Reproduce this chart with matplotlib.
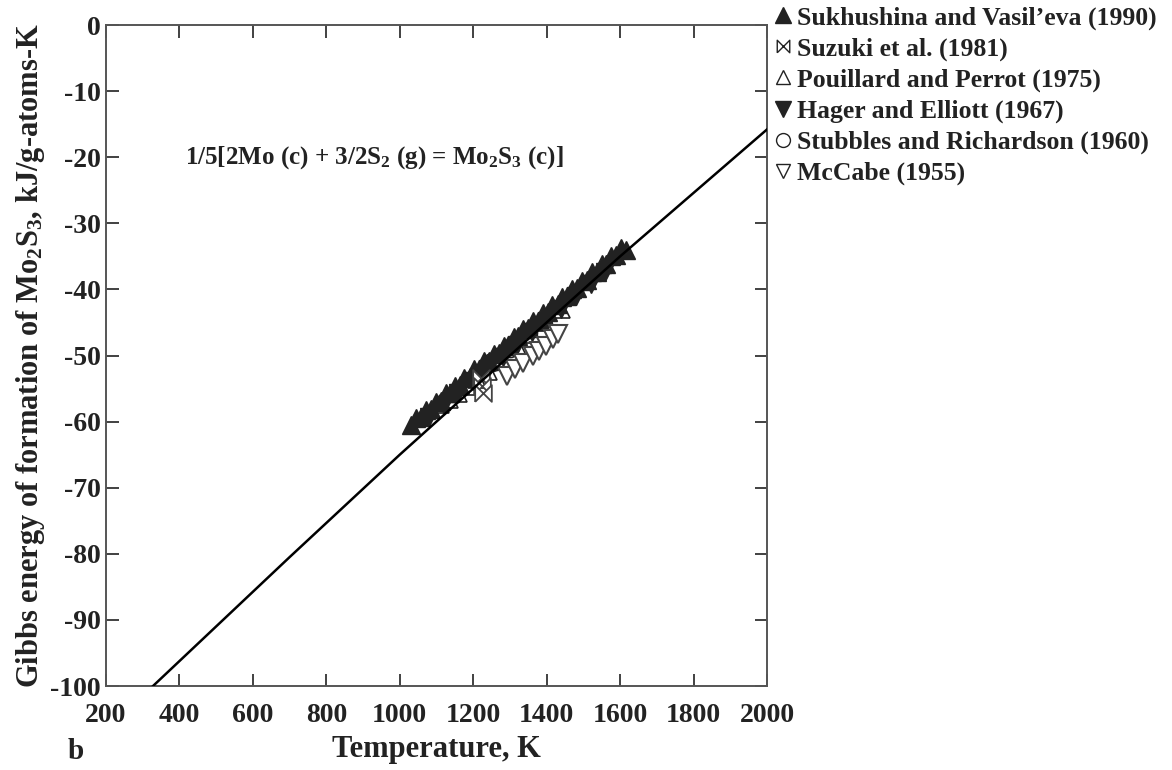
import matplotlib
matplotlib.use("Agg")
import matplotlib.pyplot as plt
from matplotlib.lines import Line2D

plt.rcParams['font.family'] = ['Liberation Serif', 'DejaVu Serif']
plt.rcParams['font.weight'] = 'bold'
plt.rcParams['mathtext.fontset'] = 'custom'
plt.rcParams['mathtext.rm'] = 'Liberation Serif:bold'
plt.rcParams['mathtext.it'] = 'Liberation Serif:bold'
plt.rcParams['mathtext.bf'] = 'Liberation Serif:bold'
plt.rcParams['mathtext.default'] = 'rm'
plt.rcParams['axes.unicode_minus'] = False

# ---- data ----
line_T = [328, 700, 1000, 1300, 1600, 2000]
line_G = [-100.0, -80.5, -65.0, -50.0, -35.0, -15.8]

suk_T = [1030, 1045, 1058, 1072, 1085, 1098, 1112, 1125, 1138, 1150, 1163, 1176,
         1190, 1203, 1216, 1230, 1243, 1256, 1270, 1283, 1296, 1310, 1323, 1336,
         1350, 1363, 1376, 1390, 1403, 1416, 1430, 1443, 1456, 1470, 1483, 1496,
         1510, 1523, 1536, 1550, 1563, 1576, 1590, 1603, 1615]
suk_G = [-60.5, -59.4, -59.3, -58.2, -58.1, -57.0, -56.9, -55.7, -55.6, -54.6, -54.5, -53.4,
         -53.2, -52.1, -52.0, -50.9, -50.8, -49.7, -49.6, -48.5, -48.4, -47.2, -47.1, -46.0,
         -45.9, -44.8, -44.7, -43.5, -43.4, -42.3, -42.2, -41.1, -41.0, -39.9, -39.8, -38.7,
         -38.5, -37.4, -37.3, -36.2, -36.1, -35.0, -34.8, -33.8, -34.0]

suz_T = [1222, 1225, 1228]
suz_G = [-53.4, -54.6, -55.7]

pou_T = [1110, 1135, 1160, 1185, 1210, 1240, 1280, 1320, 1360, 1400, 1440]
pou_G = [-57.4, -56.5, -55.6, -54.6, -53.6, -52.3, -50.5, -48.6, -46.8, -44.9, -43.0]

hag_T = [1080, 1120, 1160, 1200, 1240, 1280, 1320, 1360, 1400, 1440, 1480, 1520, 1560]
hag_G = [-59.3, -57.5, -55.7, -53.9, -52.0, -50.2, -48.4, -46.5, -44.7, -42.9, -41.0, -39.2, -37.3]

stu_T = [1250, 1300, 1350]
stu_G = [-51.0, -48.8, -46.5]

mcc_T = [1293, 1315, 1337, 1362, 1378, 1398, 1417, 1431]
mcc_G = [-53.1, -52.0, -51.1, -50.1, -49.3, -48.6, -47.5, -46.7]

labels = ["Sukhushina and Vasil\u2019eva (1990)", "Suzuki et al. (1981)",
          "Pouillard and Perrot (1975)", "Hager and Elliott (1967)",
          "Stubbles and Richardson (1960)", "McCabe (1955)"]

xticks = [200, 400, 600, 800, 1000, 1200, 1400, 1600, 1800, 2000]
yticks = [0, -10, -20, -30, -40, -50, -60, -70, -80, -90, -100]

bowtie = [(-1, -1), (-1, 1), (1, -1), (1, 1), (-1, -1)]
dark = '#222222'

fig = plt.figure(figsize=(11.72, 7.70), dpi=100)
ax = fig.add_axes([0.0904, 0.109, 0.5640, 0.8585])

ms = 13
ax.plot(stu_T, stu_G, 'o', ms=ms, mfc='white', mec=dark, mew=1.2, ls='none', zorder=2)
ax.plot(pou_T, pou_G, '^', ms=ms, mfc='white', mec=dark, mew=1.2, ls='none', zorder=2)
ax.plot(hag_T, hag_G, 'v', ms=ms, mfc=dark, mec=dark, ls='none', zorder=3)
ax.plot(suk_T, suk_G, '^', ms=ms, mfc=dark, mec=dark, ls='none', zorder=3)
ax.plot(suz_T, suz_G, marker=bowtie, ms=12, mfc='white', mec='#444444', mew=1.3, ls='none', zorder=4)
ax.plot(mcc_T, mcc_G, 'v', ms=ms, mfc='white', mec='#444444', mew=1.5, ls='none', zorder=4)
ax.plot(line_T, line_G, '-', color='black', lw=1.8, zorder=5)

ax.set_xlim(200, 2000)
ax.set_ylim(-100, 0)
ax.set_xticks(xticks)
ax.set_yticks(yticks)
ax.tick_params(direction='in', length=9, width=1.3, top=True, right=True,
               labelsize=20, colors='#333333', labelcolor='#222222', pad=4)
ax.tick_params(axis='x', pad=12)
for lab in ax.get_xticklabels() + ax.get_yticklabels():
    lab.set_fontweight('bold')
for s in ax.spines.values():
    s.set_linewidth(1.4)
    s.set_color('#555555')

ax.set_xlabel('Temperature, K', fontsize=22, fontweight='bold', labelpad=5, color='#222222')
ax.set_ylabel('Gibbs energy of formation of Mo$_2$S$_3$, kJ/g-atoms-K',
              fontsize=22, fontweight='bold', labelpad=2, color='#222222')
ax.text(0.12, 0.80, '1/5[2Mo (c) + 3/2S$_2$ (g) = Mo$_2$S$_3$ (c)]', transform=ax.transAxes,
        fontsize=18, fontweight='bold', color='#222222', va='center')
fig.text(0.058, 0.014, 'b', fontsize=21, fontweight='bold', color='#222222')

handles = [
    Line2D([], [], marker='^', ls='none', ms=11, mfc=dark, mec=dark),
    Line2D([], [], marker=bowtie, ls='none', ms=9, mfc='white', mec=dark, mew=1.0),
    Line2D([], [], marker='^', ls='none', ms=10, mfc='white', mec=dark, mew=1.0),
    Line2D([], [], marker='v', ls='none', ms=11, mfc=dark, mec=dark),
    Line2D([], [], marker='o', ls='none', ms=10, mfc='white', mec=dark, mew=1.0),
    Line2D([], [], marker='v', ls='none', ms=10, mfc='white', mec=dark, mew=1.0),
]
leg = fig.legend(handles, labels, loc='upper left', bbox_to_anchor=(0.647, 1.012),
                 frameon=False, fontsize=18.5, handlelength=0.7, handletextpad=0.2,
                 labelspacing=0.3, borderaxespad=0.2)
for t in leg.get_texts():
    t.set_fontweight('bold')
    t.set_color('#222222')

fig.savefig('out.png', dpi=100)
